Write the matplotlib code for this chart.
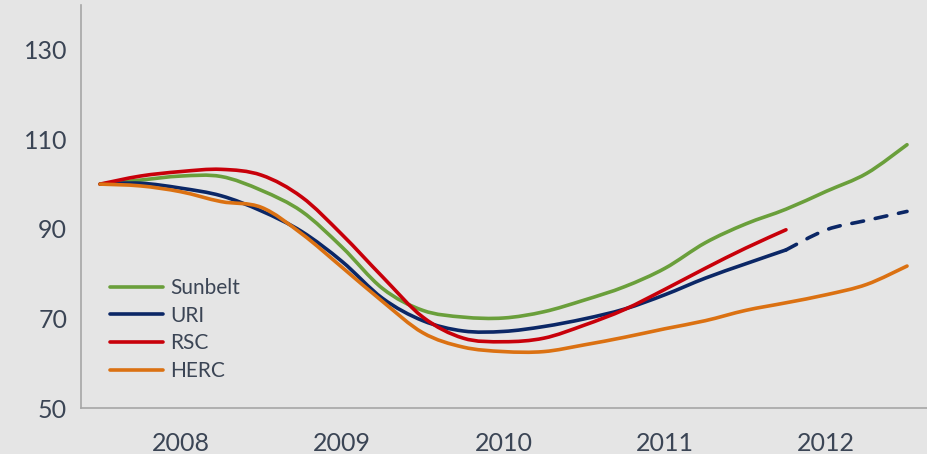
import matplotlib
matplotlib.use("Agg")
import matplotlib.pyplot as plt
from matplotlib.path import Path
from matplotlib.patches import PathPatch
from matplotlib.lines import Line2D

# quarterly points, 2008 Q1 .. 2013 Q1
t = [2008 + 0.25 * i for i in range(21)]

sunbelt = [100, 100.9, 101.8, 101.7, 98.6, 93.9, 85.9, 76.7, 71.8, 70.3, 70.1,
           71.5, 74.1, 77.1, 81.2, 86.9, 91.1, 94.4, 98.4, 102.4, 108.8]
uri = [100, 100.2, 99.1, 97.4, 94.0, 89.4, 82.7, 74.5, 69.5, 67.2, 67.1,
       68.2, 69.9, 72.1, 75.3, 79.0, 82.2, 85.3]
uri_fcst = [85.3, 89.8, 91.9, 93.9]
rsc = [100, 101.8, 102.8, 103.3, 102.0, 97.1, 88.7, 79.3, 70.3, 65.6, 64.8,
       65.6, 68.5, 72.0, 76.5, 81.2, 85.7, 89.8]
herc = [100, 99.6, 98.3, 96.1, 94.8, 88.9, 81.4, 73.8, 66.8, 63.6, 62.6,
        62.6, 64.1, 65.8, 67.7, 69.5, 71.8, 73.5, 75.3, 77.6, 81.7]

years = ["2008", "2009", "2010", "2011", "2012"]
yticks = [50, 70, 90, 110, 130]

c_green = "#6a9f3b"
c_navy = "#0b2766"
c_red = "#c8000a"
c_orange = "#db7112"
txt = "#3b4555"
bg = "#e5e5e5"


def smooth_path(xs, ys):
    # Excel-style smoothed line: cubic bezier through the points
    pts = list(zip(xs, ys))
    verts = [pts[0]]
    codes = [Path.MOVETO]
    n = len(pts)
    for i in range(n - 1):
        p0 = pts[i - 1] if i > 0 else pts[i]
        p1 = pts[i]
        p2 = pts[i + 1]
        p3 = pts[i + 2] if i + 2 < n else pts[i + 1]
        c1 = (p1[0] + (p2[0] - p0[0]) / 6, p1[1] + (p2[1] - p0[1]) / 6)
        c2 = (p2[0] - (p3[0] - p1[0]) / 6, p2[1] - (p3[1] - p1[1]) / 6)
        verts += [c1, c2, p2]
        codes += [Path.CURVE4] * 3
    return Path(verts, codes)


fig = plt.figure(figsize=(9.28, 4.54), dpi=100, facecolor=bg)
ax = fig.add_axes([0.0873, 0.1013, 0.9127, 0.8877])
ax.set_facecolor(bg)

lw = 2.6
series = [(sunbelt, c_green, "Sunbelt"), (uri, c_navy, "URI"),
          (rsc, c_red, "RSC"), (herc, c_orange, "HERC")]
for vals, col, name in series:
    p = smooth_path(t[:len(vals)], vals)
    ax.add_patch(PathPatch(p, fill=False, edgecolor=col, lw=lw,
                           capstyle="round", joinstyle="round"))

pf = smooth_path(t[17:17 + len(uri_fcst)], uri_fcst)
ax.add_patch(PathPatch(pf, fill=False, edgecolor=c_navy, lw=lw,
                       linestyle=(0, (3.3, 3.3)), capstyle="round"))

ax.set_xlim(2007.882, 2013.13)
ax.set_ylim(50, 140)

ax.set_yticks(yticks)
ax.set_yticklabels([str(v) for v in yticks])
ax.set_xticks([int(y) + 0.5 for y in years])
ax.set_xticklabels(years)
ax.tick_params(axis="both", length=0, labelsize=18, labelcolor=txt)
ax.tick_params(axis="y", pad=10)
ax.tick_params(axis="x", pad=17)
for lab in ax.get_xticklabels() + ax.get_yticklabels():
    lab.set_family("Lato")

for s in ["top", "right"]:
    ax.spines[s].set_visible(False)
for s in ["left", "bottom"]:
    ax.spines[s].set_color("#a6a6a6")
    ax.spines[s].set_linewidth(1.2)

handles = [Line2D([], [], color=col, lw=lw, solid_capstyle="round")
           for _, col, _ in series]
leg = ax.legend(handles, [s[2] for s in series], loc="upper left",
                bbox_to_anchor=(0.034, 0.3226), frameon=False, borderpad=0,
                borderaxespad=0, handlelength=2.55, handletextpad=0.34,
                labelspacing=0.37, prop={"family": "Lato", "size": 15})
for tx in leg.get_texts():
    tx.set_color(txt)

plt.savefig("out.png", dpi=100, facecolor=bg)
